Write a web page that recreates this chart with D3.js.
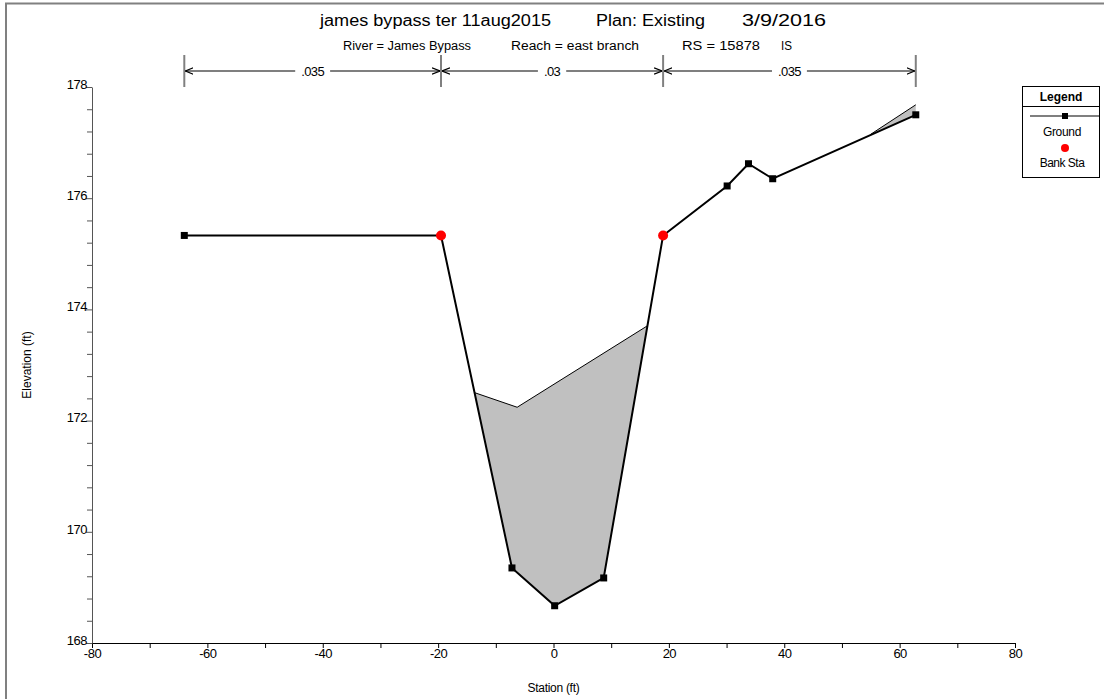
<!DOCTYPE html>
<html><head><meta charset="utf-8">
<script src="https://cdn.jsdelivr.net/npm/d3@7"></script>
<style>
body{margin:0;background:#fff;}
svg{display:block;font-family:"Liberation Sans",Arial,sans-serif;}
</style></head>
<body><svg id="c" width="1104" height="699"></svg>
<script>
// ---- data ----
const groundSta  = [-64, -19.5, -7.2, 0.2, 8.7, 19, 30.1, 33.8, 38, 62.8];
const groundElev = [175.33, 175.33, 169.35, 168.67, 169.17, 175.33, 176.22, 176.62, 176.35, 177.5];
const bankSta  = [-19.5, 19];
const bankElev = [175.33, 175.33];
const fill1Sta  = [-13.6, -6.3, 16.2];
const fill1Elev = [172.5, 172.24, 173.7];
const fill2Sta  = [55, 62.8];
const fill2Elev = [177.15, 177.68];
const nBreaks = [-64, -19.5, 19, 62.8];
const nValues = [".035", ".03", ".035"];
const titleParts = ["james bypass ter 11aug2015", "Plan: Existing", "3/9/2016"];
const subtitleParts = ["River = James Bypass", "Reach = east branch", "RS = 15878", "IS"];
const xMajorTicks = [-80, -60, -40, -20, 0, 20, 40, 60, 80];
const xMinorTicks = [-70, -50, -30, -10, 10, 30, 50, 70];
const yMajorTicks = [168, 170, 172, 174, 176, 178];
const yMinorTicks = d3.range(168, 178.001, 0.4).filter(v => Math.abs(v - Math.round(v)) > 0.01 || Math.round(v) % 2 === 1);

const svg = d3.select("#c");
const W = 1104, H = 699;
const m = {left: 92, right: 1015, top: 87, bottom: 643};
const x = d3.scaleLinear().domain([-80, 80]).range([m.left, m.right]);
const y = d3.scaleLinear().domain([168, 178]).range([m.bottom, m.top]);

// frame (top & left visible)
svg.append("path").attr("d", `M6,${H+5} V3.5 H${W+5}`).attr("fill", "none").attr("stroke", "#808080").attr("stroke-width", 2);

// titles (layout: start x and width)
const titleLayout = [[320, 231], [596, 109], [742, 84]];
titleParts.forEach((s, i) => {
  svg.append("text").attr("x", titleLayout[i][0]).attr("y", 26).attr("font-size", 16)
    .attr("textLength", titleLayout[i][1]).attr("lengthAdjust", "spacingAndGlyphs").text(s);
});
const subLayout = [[343, 128], [511, 128], [682, 78], [781, 11]];
subtitleParts.forEach((s, i) => {
  svg.append("text").attr("x", subLayout[i][0]).attr("y", 50).attr("font-size", 12.5)
    .attr("textLength", subLayout[i][1]).attr("lengthAdjust", "spacingAndGlyphs").text(s);
});

// Manning's n dimension lines
const dimY = 71;
svg.append("defs").append("marker").attr("id", "arr").attr("viewBox", "0 0 10 10")
  .attr("refX", 10).attr("refY", 5).attr("markerWidth", 8).attr("markerHeight", 8).attr("orient", "auto-start-reverse")
  .attr("markerUnits", "userSpaceOnUse")
  .append("path").attr("d", "M0,1 L10,5 L0,9").attr("fill", "none").attr("stroke", "#000").attr("stroke-width", 1.5);
nBreaks.forEach(s => {
  svg.append("line").attr("x1", x(s)).attr("x2", x(s)).attr("y1", 55).attr("y2", 87).attr("stroke", "#808080").attr("stroke-width", 2);
});
nValues.forEach((v, i) => {
  const a = x(nBreaks[i]) + 1, b = x(nBreaks[i + 1]) - 1, mid = (a + b) / 2;
  const txt = svg.append("text").attr("x", mid).attr("y", dimY + 4.5).attr("text-anchor", "middle").attr("font-size", 13).attr("letter-spacing", "-0.6").text(v);
  const w = txt.node().getComputedTextLength() / 2 + 6;
  svg.append("line").attr("x1", mid - w).attr("x2", a).attr("y1", dimY).attr("y2", dimY).attr("stroke", "#000").attr("stroke-width", 1.2).attr("marker-end", "url(#arr)");
  svg.append("line").attr("x1", mid + w).attr("x2", b).attr("y1", dimY).attr("y2", dimY).attr("stroke", "#000").attr("stroke-width", 1.2).attr("marker-end", "url(#arr)");
});

// axes
const fmt = d => String(d);
const gx = svg.append("g").attr("transform", `translate(0,${m.bottom})`);
gx.call(d3.axisBottom(x).tickValues(xMajorTicks).tickSize(5).tickSizeOuter(0).tickFormat(fmt));
gx.append("g").call(d3.axisBottom(x).tickValues(xMinorTicks).tickSize(5).tickFormat("")).select(".domain").remove();
gx.selectAll("text").attr("font-size", 13).attr("letter-spacing", "-0.5").attr("font-family", "Liberation Sans, Arial").attr("dy", "0.5em").attr("fill", "#000");
gx.selectAll("line").attr("stroke", "#000");
gx.select(".domain").attr("stroke", "#000");

const gy = svg.append("g").attr("transform", `translate(${m.left},0)`);
gy.call(d3.axisLeft(y).tickValues(yMajorTicks).tickSize(6).tickSizeOuter(0).tickFormat(fmt));
gy.append("g").call(d3.axisLeft(y).tickValues(yMinorTicks).tickSize(5).tickFormat("")).select(".domain").remove();
gy.selectAll("text").attr("font-size", 13).attr("letter-spacing", "-0.5").attr("font-family", "Liberation Sans, Arial").attr("x", -5).attr("dy", "0.1em").attr("fill", "#000");
gy.selectAll("line").attr("stroke", "#555");
gy.select(".domain").attr("stroke", "#555");

svg.append("text").attr("x", x(0)).attr("y", 692).attr("text-anchor", "middle").attr("font-size", 12).attr("letter-spacing", "-0.3").text("Station (ft)");
svg.append("text").attr("transform", `translate(31,${(m.top + m.bottom) / 2}) rotate(-90)`).attr("text-anchor", "middle").attr("font-size", 12).text("Elevation (ft)");

// ground interpolation
function groundAt(s) {
  for (let i = 0; i < groundSta.length - 1; i++) {
    if (s >= groundSta[i] && s <= groundSta[i + 1]) {
      const t = (s - groundSta[i]) / (groundSta[i + 1] - groundSta[i]);
      return groundElev[i] + t * (groundElev[i + 1] - groundElev[i]);
    }
  }
  return groundElev[groundElev.length - 1];
}
function fillPoly(sta, elev) {
  const pts = sta.map((s, i) => [s, elev[i]]);
  const s0 = sta[0], s1 = sta[sta.length - 1];
  pts.push([s1, groundAt(s1)]);
  for (let i = groundSta.length - 1; i >= 0; i--) if (groundSta[i] > s0 && groundSta[i] < s1) pts.push([groundSta[i], groundElev[i]]);
  pts.push([s0, groundAt(s0)]);
  return pts;
}
const line = d3.line().x(d => x(d[0])).y(d => y(d[1]));
[[fill1Sta, fill1Elev], [fill2Sta, fill2Elev]].forEach(([s, e]) => {
  svg.append("path").attr("d", line(fillPoly(s, e)) + "Z").attr("fill", "#c0c0c0").attr("stroke", "none");
  svg.append("path").attr("d", line(s.map((v, i) => [v, e[i]]))).attr("fill", "none").attr("stroke", "#000").attr("stroke-width", 1);
});

// ground
svg.append("path").attr("d", line(groundSta.map((s, i) => [s, groundElev[i]]))).attr("fill", "none").attr("stroke", "#000").attr("stroke-width", 2);
groundSta.forEach((s, i) => {
  if (bankSta.includes(s)) return;
  svg.append("rect").attr("x", x(s) - 3.5).attr("y", y(groundElev[i]) - 3.5).attr("width", 7).attr("height", 7).attr("fill", "#000");
});
bankSta.forEach((s, i) => {
  svg.append("circle").attr("cx", x(s)).attr("cy", y(bankElev[i])).attr("r", 5).attr("fill", "#ff0000");
});

// legend
const L = svg.append("g");
L.append("rect").attr("x", 1022.5).attr("y", 86.5).attr("width", 77).attr("height", 91).attr("fill", "#fff").attr("stroke", "#000");
L.append("line").attr("x1", 1022.5).attr("x2", 1099.5).attr("y1", 106.5).attr("y2", 106.5).attr("stroke", "#000");
L.append("text").attr("x", 1061).attr("y", 101).attr("text-anchor", "middle").attr("font-size", 12).attr("font-weight", "bold").text("Legend");
L.append("line").attr("x1", 1030).attr("x2", 1100).attr("y1", 116).attr("y2", 116).attr("stroke", "#000").attr("stroke-width", 1.2);
L.append("rect").attr("x", 1062).attr("y", 113).attr("width", 6).attr("height", 6).attr("fill", "#000");
L.append("text").attr("x", 1062).attr("y", 136).attr("text-anchor", "middle").attr("font-size", 12).attr("letter-spacing", "-0.3").text("Ground");
L.append("circle").attr("cx", 1065).attr("cy", 148).attr("r", 4).attr("fill", "#ff0000");
L.append("text").attr("x", 1062).attr("y", 167).attr("text-anchor", "middle").attr("font-size", 12).attr("letter-spacing", "-0.5").text("Bank Sta");
</script></body></html>
